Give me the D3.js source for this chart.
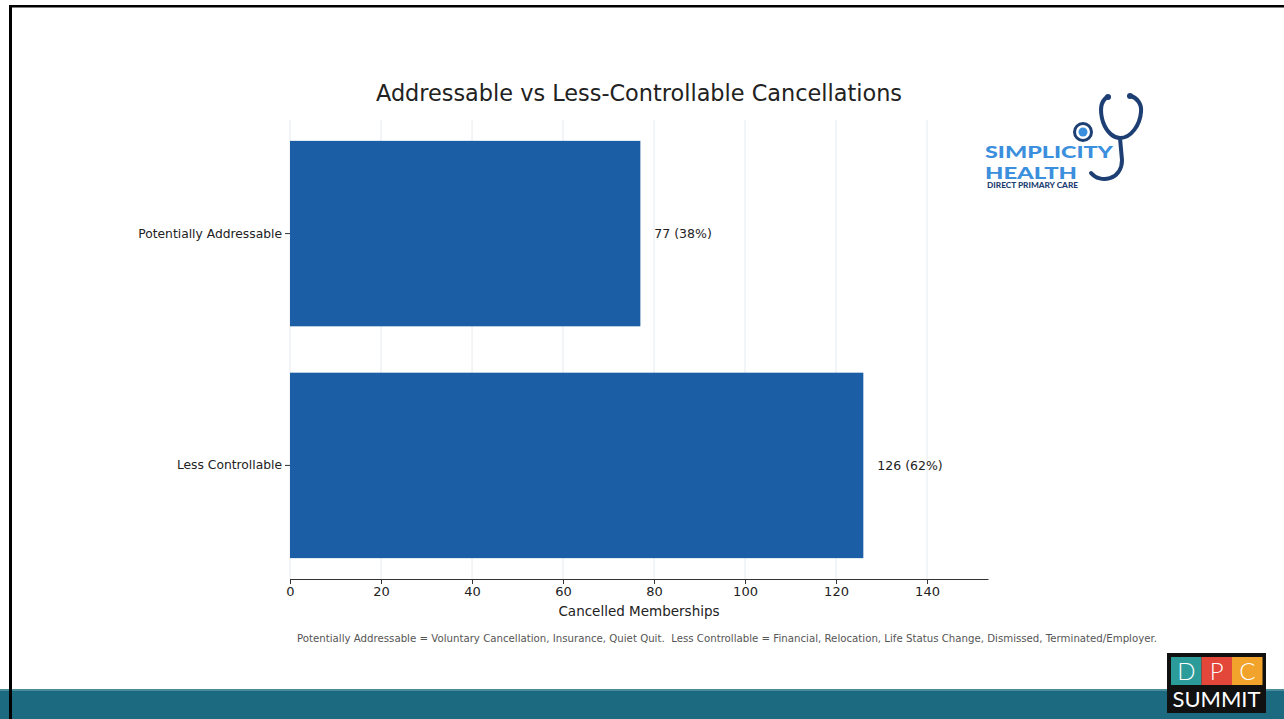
<!DOCTYPE html>
<html>
<head>
<meta charset="utf-8">
<script src="https://cdn.jsdelivr.net/npm/d3@7"></script>
<style>
  html, body { margin: 0; padding: 0; background: #fff; }
  svg { display: block; }
</style>
</head>
<body>
<div id="container"></div>
<script>
const categories = ['Potentially Addressable', 'Less Controllable']
const counts = [77, 126]
const shares = [38, 62]
const xTicks = [0, 20, 40, 60, 80, 100, 120, 140]

const W = 1284
const H = 719
const margin = { top: 120, right: 296, bottom: 140, left: 290 }
const barColor = '#1b5ea6'
const font = 'DejaVu Sans, sans-serif'

const svg = d3.select('#container')
  .append('svg')
  .attr('width', W)
  .attr('height', H)

// slide frame
svg.append('rect').attr('x', 0).attr('y', 0).attr('width', W).attr('height', H).attr('fill', '#fff')
svg.append('rect').attr('x', 0).attr('y', 689).attr('width', W).attr('height', 30).attr('fill', '#1c6a7f')
svg.append('rect').attr('x', 0).attr('y', 689).attr('width', W).attr('height', 2).attr('fill', '#4a8c9c')
svg.append('rect').attr('x', 9).attr('y', 5).attr('width', W - 9).attr('height', 2.5).attr('fill', '#000')
svg.append('rect').attr('x', 9).attr('y', 5).attr('width', 3).attr('height', H - 5).attr('fill', '#000')

const x = d3.scaleLinear().domain([0, 153.4]).range([margin.left, W - margin.right])
const y = d3.scaleBand().domain(categories).range([margin.top, H - margin.bottom])
  .paddingInner(0.2).paddingOuter(0.09)

// grid
svg.append('g')
  .selectAll('line')
  .data(xTicks)
  .enter().append('line')
  .attr('x1', d => x(d)).attr('x2', d => x(d))
  .attr('y1', margin.top).attr('y2', H - margin.bottom)
  .style('stroke', '#e6ebf0')
  .style('stroke-width', 1)

// bars
svg.append('g')
  .selectAll('rect')
  .data(categories)
  .enter().append('rect')
  .attr('x', x(0))
  .attr('y', d => y(d))
  .attr('width', (d, i) => x(counts[i]) - x(0))
  .attr('height', y.bandwidth())
  .style('fill', barColor)

// value labels
svg.append('g')
  .selectAll('text')
  .data(categories)
  .enter().append('text')
  .attr('x', (d, i) => x(counts[i]) + 14)
  .attr('y', d => y(d) + y.bandwidth() / 2)
  .attr('dy', '0.35em')
  .style('font-family', font)
  .style('font-size', '12.5px')
  .style('fill', '#222')
  .text((d, i) => counts[i] + ' (' + shares[i] + '%)')

// x axis
const xAxis = svg.append('g')
  .attr('transform', `translate(0 ${H - margin.bottom})`)
  .call(d3.axisBottom(x).tickValues(xTicks).tickSize(5).tickPadding(3).tickSizeOuter(0))
xAxis.select('.domain').style('stroke', '#333').style('stroke-width', 1.2)
xAxis.selectAll('.tick line').style('stroke', '#333')
xAxis.selectAll('text').style('font-family', font).style('font-size', '13px').style('fill', '#222')

// y axis
const yAxis = svg.append('g')
  .attr('transform', `translate(${margin.left} 0)`)
  .call(d3.axisLeft(y).tickSize(5).tickPadding(3))
yAxis.select('.domain').remove()
yAxis.selectAll('.tick line').style('stroke', '#333')
yAxis.selectAll('text').style('font-family', font).style('font-size', '12.3px').style('fill', '#222')

svg.append('text')
  .attr('x', (x.range()[0] + x.range()[1]) / 2)
  .attr('y', 616)
  .attr('text-anchor', 'middle')
  .style('font-family', font)
  .style('font-size', '13.5px')
  .style('fill', '#222')
  .text('Cancelled Memberships')

// title
svg.append('text')
  .attr('x', (x.range()[0] + x.range()[1]) / 2)
  .attr('y', 101)
  .attr('text-anchor', 'middle')
  .style('font-family', font)
  .style('font-size', '22.4px')
  .style('fill', '#222')
  .text('Addressable vs Less-Controllable Cancellations')

// footnote
svg.append('text')
  .attr('x', 727)
  .attr('y', 642)
  .attr('text-anchor', 'middle')
  .attr('textLength', 860)
  .attr('lengthAdjust', 'spacingAndGlyphs')
  .style('white-space', 'pre')
  .style('font-family', font)
  .style('font-size', '10px')
  .style('fill', '#555')
  .text('Potentially Addressable = Voluntary Cancellation, Insurance, Quiet Quit.  Less Controllable = Financial, Relocation, Life Status Change, Dismissed, Terminated/Employer.')

// Simplicity Health logo
const logo = svg.append('g')
const navy = '#1d3f73'
const sky = '#3b8fdc'
logo.append('path')
  .attr('d', 'M1107,97 C1100,102 1100,112 1103,122 C1107,133 1114,138 1120,138 C1131,138 1140,125 1141,112 C1142,104 1137,98 1131,96')
  .style('fill', 'none').style('stroke', navy).style('stroke-width', 4).style('stroke-linecap', 'round')
logo.append('path')
  .attr('d', 'M1120,138 L1122,160 C1122,180 1100,184 1091,173')
  .style('fill', 'none').style('stroke', navy).style('stroke-width', 4).style('stroke-linecap', 'round')
logo.append('circle').attr('cx', 1108).attr('cy', 97).attr('r', 3).style('fill', navy)
logo.append('circle').attr('cx', 1130).attr('cy', 96).attr('r', 3).style('fill', navy)
logo.append('circle').attr('cx', 1083).attr('cy', 132).attr('r', 8.5).style('fill', 'none').style('stroke', navy).style('stroke-width', 3)
logo.append('circle').attr('cx', 1083).attr('cy', 132).attr('r', 4.5).style('fill', sky)
logo.append('text').attr('x', 985).attr('y', 158)
  .attr('textLength', 128).attr('lengthAdjust', 'spacingAndGlyphs')
  .style('font-family', 'Lato, sans-serif').style('font-weight', 900).style('font-size', '16.5px').style('fill', sky)
  .text('SIMPLICITY')
logo.append('text').attr('x', 985).attr('y', 178.5)
  .attr('textLength', 92).attr('lengthAdjust', 'spacingAndGlyphs')
  .style('font-family', 'Lato, sans-serif').style('font-weight', 900).style('font-size', '16.5px').style('fill', sky)
  .text('HEALTH')
logo.append('text').attr('x', 987).attr('y', 188)
  .attr('textLength', 91).attr('lengthAdjust', 'spacingAndGlyphs')
  .style('font-family', 'Lato, sans-serif').style('font-weight', 900).style('font-size', '6.5px').style('fill', navy)
  .text('DIRECT PRIMARY CARE')

// DPC Summit badge
const badge = svg.append('g')
badge.append('rect').attr('x', 1167).attr('y', 653).attr('width', 99).attr('height', 60).style('fill', '#111')
const tiles = [['D', '#2b9c9a'], ['P', '#e2473a'], ['C', '#f2a32b']]
tiles.forEach((t, i) => {
  badge.append('rect').attr('x', 1171 + i * 30.5).attr('y', 657).attr('width', 30.5).attr('height', 28).style('fill', t[1])
  badge.append('text').attr('x', 1171 + i * 30.5 + 15.25).attr('y', 680)
    .attr('text-anchor', 'middle')
    .style('font-family', 'Lato, sans-serif').style('font-weight', 300).style('font-size', '24px').style('fill', '#fff')
    .text(t[0])
})
badge.append('text').attr('x', 1216.5).attr('y', 707)
  .attr('text-anchor', 'middle')
  .attr('textLength', 88).attr('lengthAdjust', 'spacingAndGlyphs')
  .style('font-family', 'Lato, sans-serif').style('font-weight', 400).style('font-size', '21px').style('fill', '#fff')
  .text('SUMMIT')
</script>
</body>
</html>
